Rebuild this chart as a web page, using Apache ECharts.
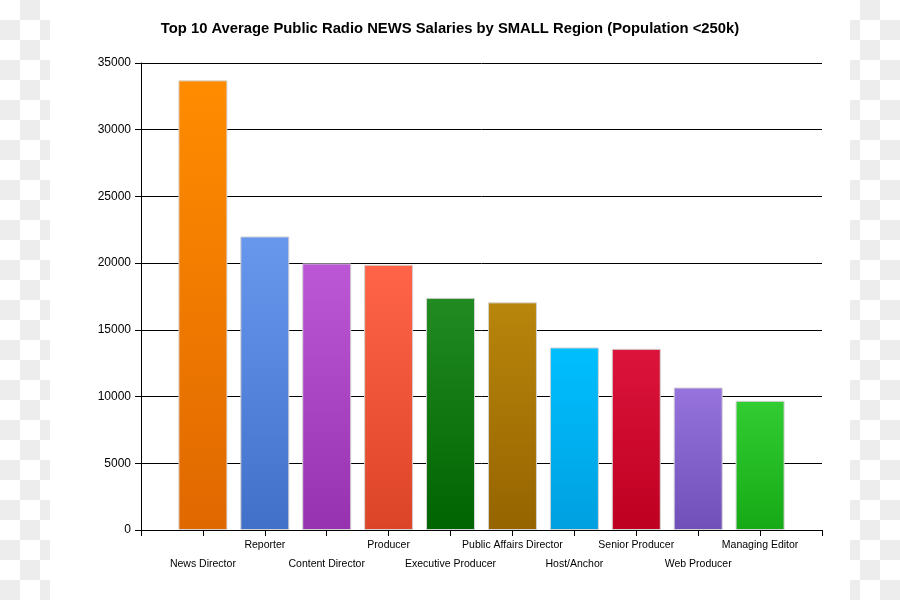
<!DOCTYPE html>
<html>
<head>
<meta charset="utf-8">
<script src="https://cdn.jsdelivr.net/npm/echarts@6/dist/echarts.min.js"></script>
<style>
  html, body { margin: 0; padding: 0; }
  body {
    width: 900px; height: 600px; position: relative; overflow: hidden;
    background: repeating-conic-gradient(#ededed 0 25%, #ffffff 0 50%) 0 0 / 40px 40px;
  }
  #paper { position: absolute; left: 50px; top: 0; width: 800px; height: 600px; background: #fff; }
  #chart { position: absolute; left: 0; top: 0; width: 900px; height: 600px; }
</style>
</head>
<body>
<div id="paper"></div>
<div id="chart"></div>
<script>
const titleText = 'Top 10 Average Public Radio NEWS Salaries by SMALL Region (Population <250k)';
const categories = ['News Director', 'Reporter', 'Content Director', 'Producer', 'Executive Producer',
  'Public Affairs Director', 'Host/Anchor', 'Senior Producer', 'Web Producer', 'Managing Editor'];
const salaries = [33700, 22000, 19980, 19880, 17400, 17060, 13680, 13580, 10680, 9680];
const yTicks = [0, 5000, 10000, 15000, 20000, 25000, 30000, 35000];

const topColors = ['#FF8C00', '#6898EE', '#BC58D6', '#FF6448', '#228B22', '#B8860B', '#00BFFF', '#DC143C', '#9673DD', '#32CD32'];
const bottomColors = ['#E06800', '#4070C8', '#9632B0', '#DC4428', '#006400', '#966400', '#00A0E0', '#BE0020', '#7050B8', '#16AA16'];

// padded category list: empty slot at both ends
const axisCats = [''].concat(categories, ['']);
const barData = ['-'].concat(salaries.map((v, i) => ({
  value: v,
  itemStyle: {
    color: new echarts.graphic.LinearGradient(0, 0, 0, 1, [
      { offset: 0, color: topColors[i] },
      { offset: 1, color: bottomColors[i] }
    ])
  }
})), ['-']);

const chart = echarts.init(document.getElementById('chart'), null, { renderer: 'canvas' });
chart.setOption({
  backgroundColor: 'transparent',
  animation: false,
  title: {
    text: titleText,
    left: 'center',
    top: 16,
    textStyle: { fontFamily: 'Liberation Sans, Arial, sans-serif', fontSize: 14.8, fontWeight: 'bold', color: '#000' }
  },
  grid: { left: 141, right: 78, top: 63, bottom: 70, containLabel: false },
  xAxis: {
    type: 'category',
    data: axisCats,
    boundaryGap: false,
    axisLine: { show: true, lineStyle: { color: '#000', width: 1 } },
    axisTick: { show: true, length: 6, interval: 0, lineStyle: { color: '#000' } },
    axisLabel: {
      interval: 0,
      margin: 6,
      fontFamily: 'Liberation Sans, Arial, sans-serif',
      fontSize: 10.5,
      color: '#000',
      lineHeight: 19,
      formatter: function (val, idx) { return (idx % 2 === 1) ? '\n' + val : val; }
    },
    splitLine: { show: false }
  },
  yAxis: {
    type: 'value',
    min: yTicks[0],
    max: yTicks[yTicks.length - 1],
    interval: 5000,
    axisLine: { show: true, lineStyle: { color: '#000', width: 1 } },
    axisTick: { show: true, length: 6, lineStyle: { color: '#000' } },
    axisLabel: {
      margin: 10,
      fontFamily: 'Liberation Sans, Arial, sans-serif',
      fontSize: 12,
      color: '#000',
      formatter: function (v) { return String(v); }
    },
    splitLine: { show: true, lineStyle: { color: '#000', width: 1 } }
  },
  series: [{
    type: 'bar',
    data: barData,
    barWidth: 49,
    itemStyle: { borderColor: '#d4d4d4', borderWidth: 1 },
    emphasis: { disabled: true }
  }]
});
</script>
</body>
</html>
